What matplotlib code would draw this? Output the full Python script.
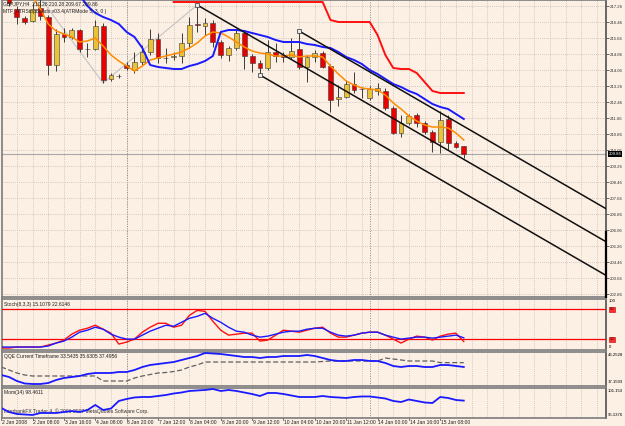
import numpy as np
import matplotlib.pyplot as plt

plt.rcParams['font.family'] = ['Liberation Sans', 'DejaVu Sans']

# GBPJPY H4 candles, bars 1..59
opens = [217.86, 217.11, 216.66, 216.51, 217.16, 216.71, 214.31, 215.86, 215.71, 216.06,
         215.11, 215.11, 216.26, 213.61, 213.76, 214.31, 214.06, 214.46, 214.96, 215.61,
         214.66, 214.71, 214.76, 215.41, 216.36, 216.26, 216.41, 215.46, 214.81, 215.16,
         215.91, 214.76, 214.41, 214.16, 214.96, 214.81, 214.71, 215.11, 214.21, 214.71,
         214.91, 214.26, 212.61, 212.71, 213.36, 213.11, 212.66, 213.01, 213.01, 212.16,
         210.91, 211.41, 211.81, 211.41, 210.96, 210.46, 211.61, 210.41, 210.28]
highs = [217.96, 217.26, 216.76, 217.41, 217.66, 216.81, 216.11, 216.16, 216.16, 216.11,
         215.41, 216.56, 216.41, 213.91, 213.86, 214.46, 214.96, 215.31, 216.11, 215.91,
         215.16, 214.96, 215.91, 216.71, 217.31, 216.66, 216.56, 215.56, 215.26, 216.06,
         216.01, 214.86, 214.56, 215.56, 215.41, 214.96, 215.66, 216.01, 214.81, 215.06,
         215.01, 214.36, 213.31, 213.56, 213.96, 213.21, 213.26, 213.41, 213.16, 212.26,
         211.81, 211.86, 211.91, 211.51, 211.06, 212.01, 211.81, 210.51, 210.28]
lows = [217.26, 216.36, 216.36, 216.46, 216.56, 213.81, 214.01, 215.46, 215.61, 214.96,
        214.71, 215.06, 213.41, 213.51, 213.66, 214.06, 213.91, 214.31, 214.81, 214.41,
        214.41, 214.56, 214.41, 215.16, 215.96, 215.81, 215.21, 214.66, 214.51, 215.06,
        214.11, 213.96, 213.81, 214.06, 214.46, 214.46, 214.61, 214.11, 213.46, 214.46,
        214.16, 211.96, 212.26, 212.66, 212.91, 212.66, 212.56, 212.81, 212.06, 210.86,
        210.71, 211.31, 211.21, 210.86, 209.96, 209.91, 210.06, 210.16, 209.67]
closes = [217.41, 216.71, 216.46, 217.11, 216.76, 214.31, 215.86, 215.71, 216.06, 215.11,
          215.10, 216.26, 213.56, 213.81, 213.74, 214.16, 214.46, 214.96, 215.61, 214.66,
          214.64, 214.76, 215.41, 216.31, 216.31, 216.41, 215.46, 214.81, 215.16, 215.91,
          214.76, 214.41, 214.16, 214.96, 214.76, 214.71, 215.01, 214.21, 214.71, 214.91,
          214.21, 212.56, 212.71, 213.36, 213.06, 213.09, 213.11, 213.16, 212.16, 210.91,
          211.41, 211.76, 211.41, 210.96, 210.46, 211.56, 210.41, 210.21, 209.86]

# indicator values, bars 0..59
ma_orange = [219.56, 219.06, 218.56, 218.16, 217.71, 217.11, 216.36, 216.01, 215.86, 215.71,
             215.46, 215.51, 215.66, 215.26, 214.81, 214.51, 214.26, 214.01, 214.26, 214.56,
             214.66, 214.76, 214.86, 214.96, 215.16, 215.41, 215.76, 215.96, 215.91, 215.71,
             215.46, 215.21, 215.01, 214.91, 214.86, 214.76, 214.76, 214.81, 214.71, 214.76,
             214.76, 214.71, 214.26, 213.86, 213.51, 213.31, 213.16, 213.11, 213.06, 212.81,
             212.41, 212.11, 211.76, 211.51, 211.31, 211.21, 211.21, 211.16, 210.91, 210.56]
band_blue = [221.31, 221.06, 220.76, 220.46, 220.16, 219.81, 219.46, 219.06, 218.66, 218.26,
             217.81, 217.26, 216.91, 216.71, 216.56, 216.36, 215.96, 215.71, 215.16, 214.31,
             214.21, 214.16, 214.11, 214.11, 214.26, 214.36, 214.51, 214.76, 215.96, 216.06,
             216.06, 216.01, 215.91, 215.81, 215.71, 215.56, 215.46, 215.46, 215.46, 215.36,
             215.31, 215.21, 215.16, 214.96, 214.71, 214.56, 214.36, 214.06, 213.86, 213.61,
             213.36, 213.21, 213.01, 212.86, 212.61, 212.36, 212.21, 212.11, 211.86, 211.61]
nan = float('nan')
stop_red = [nan] * 22 + [217.46] * 20 + [216.56, 216.46, 216.46, 216.46, 216.46, 216.46,
                                         215.81, 214.81, 214.16, 214.11, 214.11, 213.91,
                                         213.46, 213.01, 212.91, 212.91, 212.91, 212.91]

zigzag_bars = [5, 13, 25]
zigzag_prices = [217.66, 213.41, 217.31]
channel_bars = [25, 38, 33]
channel_prices = [217.31, 216.01, 213.81]
channel_slope = -0.227  # price per bar

stoch_main = [2, 2, 4, 4, 4, 4, 8, 12, 18, 30, 38, 42, 48, 40, 32, 10, 14, 20, 34, 44,
              52, 52, 44, 48, 68, 78, 76, 56, 38, 28, 30, 32, 32, 16, 18, 28, 38, 36, 34, 38,
              42, 44, 32, 24, 24, 28, 32, 34, 34, 28, 20, 12, 20, 26, 24, 18, 26, 30, 32, 15.1]
stoch_signal = [4, 4, 4, 4, 4, 4, 6, 12, 16, 24, 34, 38, 44, 40, 30, 24, 20, 20, 28, 36,
                42, 48, 46, 54, 62, 66, 72, 62, 54, 44, 36, 34, 28, 24, 26, 30, 34, 36, 36, 40,
                42, 42, 34, 28, 26, 28, 32, 34, 34, 28, 24, 20, 22, 24, 24, 22, 24, 26, 28, 22.6]

qqe_rsi = [26.25, 24.43, 20.80, 18.52, 18.07, 18.07, 18.98, 21.71, 23.52, 24.43,
           25.34, 27.16, 28.07, 28.07, 28.07, 28.98, 28.98, 30.80, 33.52, 35.34,
           36.25, 37.16, 38.07, 39.89, 41.70, 43.52, 46.25, 45.80, 45.34, 44.43,
           43.52, 42.61, 42.61, 41.70, 42.61, 42.61, 43.52, 43.52, 43.52, 44.43,
           43.52, 41.70, 39.89, 38.98, 38.98, 39.89, 39.89, 38.98, 38.98, 37.16,
           34.43, 33.52, 34.43, 34.43, 33.52, 33.52, 35.34, 35.34, 34.43, 33.54]
qqe_trail = [33.52, 30.80, 28.07, 26.25, 25.34, 25.34, 25.34, 25.34, 25.34, 25.34,
             25.34, 25.34, 25.34, 20.80, 20.80, 20.80, 20.80, 23.52, 25.34, 26.70,
             28.07, 28.52, 29.43, 30.80, 33.52, 35.34, 38.07, 38.07, 38.07, 38.07,
             38.07, 38.07, 38.07, 38.07, 38.07, 38.07, 38.07, 38.07, 38.07, 38.07,
             38.07, 38.52, 38.98, 38.98, 38.98, 38.98, 38.98, 38.98, 38.98, 41.70,
             40.80, 39.89, 38.98, 38.98, 38.98, 38.98, 37.50, 37.50, 37.50, 37.50]

momentum = [96.76, 95.83, 95.37, 95.25, 95.14, 95.60, 95.60, 95.60, 95.83, 96.06,
            95.83, 96.29, 97.45, 96.29, 96.64, 98.38, 98.84, 99.19, 99.30, 99.30,
            99.53, 99.76, 100.11, 100.34, 100.69, 100.81, 100.92, 101.15, 100.69, 100.92,
            100.69, 100.34, 99.99, 99.53, 100.23, 100.23, 99.99, 99.65, 99.30, 99.30,
            99.30, 99.53, 99.30, 99.19, 99.07, 99.30, 99.42, 99.42, 99.19, 98.95,
            98.38, 98.14, 98.72, 98.38, 98.03, 97.91, 99.30, 99.07, 98.61, 98.46]

price_ticks = [217.26, 216.46, 215.66, 214.86, 214.06, 213.26, 212.46, 211.66, 210.86, 210.06,
               209.26, 208.46, 207.66, 206.86, 206.06, 205.26, 204.46, 203.66, 202.86]
time_labels = ['2 Jan 2008', '2 Jan 08:00', '3 Jan 16:00', '4 Jan 08:00', '6 Jan 20:00',
               '7 Jan 12:00', '8 Jan 04:00', '8 Jan 20:00', '9 Jan 12:00', '10 Jan 04:00',
               '10 Jan 20:00', '11 Jan 12:00', '14 Jan 00:00', '14 Jan 16:00', '15 Jan 08:00']
separator_bars = [16, 47]
last_price = 209.86

BG = '#fcefe3'
GRID = '#c4bcb4'
FS = 3.6
FS_R = 3.1

fig = plt.figure(figsize=(6.25, 4.26), dpi=100, facecolor=BG)


def pane(top, bottom):
    ax = fig.add_axes([2 / 625, 1 - bottom / 426, 604 / 625, (bottom - top) / 426])
    ax.set_facecolor(BG)
    ax.set_xlim(0.10, 77.14)
    for s in ax.spines.values():
        s.set_color('#7c7c7c')
        s.set_linewidth(1.2)
    ax.spines['right'].set_color('#505050')
    ax.yaxis.tick_right()
    ax.tick_params(axis='y', labelsize=FS_R, length=2, pad=0.8, width=0.5, colors='#303030')
    ax.tick_params(axis='x', bottom=False, labelbottom=False)
    trans = ax.get_xaxis_transform()
    ax.vlines(np.arange(2, 78, 2), 0, 1, transform=trans, colors=GRID,
              linestyles=(0, (1, 1.5)), linewidth=0.6, zorder=0)
    ax.vlines(separator_bars, 0, 1, transform=trans, colors='#8a8a8a',
              linestyles=(0, (1, 1.5)), linewidth=0.7, zorder=0)
    return ax


main = pane(0, 297)
stoch = pane(298.5, 350)
qqe = pane(352, 386)
mom = pane(388, 418)

all_bars = np.arange(60)
bars = np.arange(1, 60)

# ---- main chart
main.set_ylim(202.71, 217.56)
main.set_yticks(price_ticks)
main.set_yticklabels([f'{p:.2f}' for p in price_ticks])
main.grid(axis='y', color=GRID, linestyle=(0, (1, 1.5)), linewidth=0.6)
main.set_axisbelow(True)

main.axhline(last_price, color='#a8a8a8', linewidth=0.8, zorder=1)
main.plot(zigzag_bars, zigzag_prices, color='#c8c8c8', linewidth=0.9, zorder=2)

o = np.array(opens)
c = np.array(closes)
up = c >= o
main.vlines(bars, lows, highs, color='#3a3a3a', linewidth=0.7, zorder=3)
body_low = np.minimum(o, c)
body_h = np.maximum(np.abs(c - o), 0.03)
main.bar(bars[up], body_h[up], bottom=body_low[up], width=0.62,
         color='#e9c23a', edgecolor='#3a3a3a', linewidth=0.4, zorder=4)
main.bar(bars[~up], body_h[~up], bottom=body_low[~up], width=0.62,
         color='#e80000', edgecolor='#3a3a3a', linewidth=0.4, zorder=4)

main.plot(all_bars, ma_orange, color='#ff8c00', linewidth=1.1, zorder=5)
main.plot(all_bars, band_blue, color='#1a1aff', linewidth=1.4, zorder=5)
main.plot(all_bars, stop_red, color='#ff1010', linewidth=1.4, zorder=5)

far = 95
for b, p in zip(channel_bars, channel_prices):
    main.plot([b, far], [p, p + channel_slope * (far - b)], color='#101010',
              linewidth=1.1, zorder=6)
main.plot(channel_bars, channel_prices, linestyle='none', marker='s', markersize=2.2,
          markerfacecolor='#e8e8e8', markeredgecolor='#303030', markeredgewidth=0.5, zorder=7)

main.plot([77.1, 77.1], [205.96, 202.71], color='black', linewidth=1.6, clip_on=False, zorder=8)

ytr = main.get_yaxis_transform()
main.text(1.004, last_price, f'{last_price:.2f}', transform=ytr, fontsize=FS_R, color='white',
          va='center', ha='left', zorder=10,
          bbox=dict(facecolor='black', edgecolor='none', pad=0.4))

fig.text(3 / 625, 1 - 4 / 426, 'GBPJPY,H4  210.28 210.28 209.67 209.86', fontsize=FS,
         va='center', ha='left', color='#202020')
fig.text(3 / 625, 1 - 11 / 426, 'MTF_ATRStopBands v03.4(ATRMode 5, 3, 0 )', fontsize=FS,
         va='center', ha='left', color='#202020')

# ---- stochastic
stoch.set_ylim(-2, 102)
stoch.set_yticks([])
stoch.plot(all_bars, stoch_main, color='#ff1010', linewidth=1.0, zorder=4)
stoch.plot(all_bars, stoch_signal, color='#1a1aff', linewidth=1.0, zorder=5)
for lvl in (80, 20):
    stoch.axhline(lvl, color='#ff0000', linewidth=0.9, zorder=3)
strans = stoch.get_yaxis_transform()
stoch.text(1.004, 100, '100', transform=strans, fontsize=FS_R, va='top', ha='left')
stoch.text(1.004, 0, '0', transform=strans, fontsize=FS_R, va='bottom', ha='left')
for lvl in (80, 20):
    stoch.text(1.006, lvl, str(lvl), transform=strans, fontsize=FS_R, va='center', ha='left',
               color='#500000', bbox=dict(facecolor='#ff3030', edgecolor='#c00000',
                                          linewidth=0.4, pad=0.4))
stoch.text(0.003, 0.93, 'Stoch(8,3,3) 15.1079 22.6146', transform=stoch.transAxes,
           fontsize=FS, va='top', ha='left', color='#202020')

# ---- QQE
qqe.set_ylim(16.25, 47.16)
qqe.set_yticks([])
qqe.plot(all_bars, qqe_trail, color='#606060', linewidth=0.9, linestyle=(0, (4, 2)), zorder=4)
qqe.plot(all_bars, qqe_rsi, color='#1a1aff', linewidth=1.3, zorder=5)
qqe.text(1.003, 0.97, '46.2528', transform=qqe.transAxes, fontsize=FS_R, va='top', ha='left')
qqe.text(1.003, 0.06, '17.1593', transform=qqe.transAxes, fontsize=FS_R, va='bottom', ha='left')
qqe.text(0.003, 0.93, 'QQE Current Timeframe 33.5435 35.6305 37.4956', transform=qqe.transAxes,
         fontsize=FS, va='top', ha='left', color='#202020')

# ---- momentum
mom.set_ylim(94.44, 101.38)
mom.set_yticks([])
mom.plot(all_bars, momentum, color='#1a1aff', linewidth=1.3, zorder=5)
mom.text(1.003, 0.97, '101.153', transform=mom.transAxes, fontsize=FS_R, va='top', ha='left')
mom.text(1.003, 0.03, '95.1376', transform=mom.transAxes, fontsize=FS_R, va='bottom', ha='left')
mom.text(0.003, 0.93, 'Mom(14) 98.4611', transform=mom.transAxes,
         fontsize=FS, va='top', ha='left', color='#202020')
mom.text(0.003, 0.12, 'InterbankFX Trader 4, \u00a9 2001-2007 MetaQuotes Software Corp.',
         transform=mom.transAxes, fontsize=FS, va='bottom', ha='left', color='#303030')

# time axis
label_bars = np.arange(0, 4 * len(time_labels), 4)
xtr = mom.get_xaxis_transform()
for b, lab in zip(label_bars, time_labels):
    mom.text(b + 0.1, -0.06, lab, transform=xtr, fontsize=FS, va='top', ha='left',
             color='#202020', clip_on=False)
    mom.plot([b, b], [0, -0.05], transform=xtr, color='#404040', linewidth=0.5, clip_on=False)

fig.savefig('out.png', dpi=100, facecolor=BG)
